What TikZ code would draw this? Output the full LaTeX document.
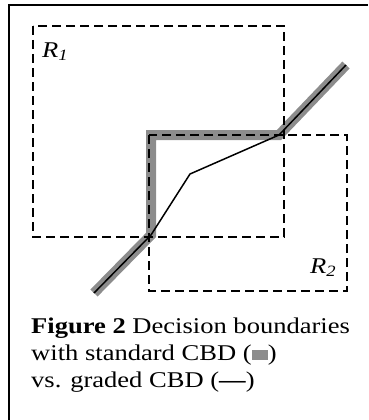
\documentclass[tikz,border=0pt]{standalone}
\usepackage{fontspec}
\setmainfont{Liberation Serif}[FakeStretch=1.18]
\usepackage{tikz}
\usetikzlibrary{positioning}
\definecolor{cbdgray}{RGB}{140,140,140}

\begin{document}
\begin{tikzpicture}[x=1pt,y=-1pt,font=\fontsize{22.5}{27}\selectfont,
    region/.style={draw,dashed,dash pattern=on 9pt off 5pt,line width=1.3pt},
    stdcbd/.style={draw=cbdgray,line width=10pt,line join=miter},
    gradcbd/.style={draw,line width=1.5pt,line join=round},
    lbl/.style={anchor=base west,inner sep=0pt}]
    \useasboundingbox (0,0) rectangle (368,420);
    % frame
    \draw[line width=2pt] (9,420) -- (9,5) -- (368,5);
    % boundary points
    \coordinate (lo) at (94,293);
    \coordinate (c1) at (151,235);
    \coordinate (c2) at (151,135);
    \coordinate (c3) at (279,135);
    \coordinate (hi) at (346,65);
    \coordinate (mid) at (190,174);
    \draw[stdcbd] (lo) -- (c1) -- (c2) -- (c3) -- (hi);
    % regions
    \draw[region] (33,26) rectangle (284,237);
    \draw[region] (149,135) rectangle (347,291);
    \node[lbl] (r1) at (42,57) {\textit{R}\textsubscript{\textit{1}}};
    \node[lbl] (r2) at (310,273) {\textit{R}\textsubscript{\textit{2}}};
    \draw[gradcbd] (lo) -- (c1) -- (mid) -- (c3) -- (hi);
    % caption
    \node[anchor=north west,align=left,inner sep=0pt] (cap) at (31,318)
      {\textbf{Figure 2} Decision boundaries\\
       with standard CBD (\textcolor{cbdgray}{\rule[0.05em]{0.72em}{0.45em}})\\
       vs. graded CBD (\textbf{---})};
\end{tikzpicture}
\end{document}
